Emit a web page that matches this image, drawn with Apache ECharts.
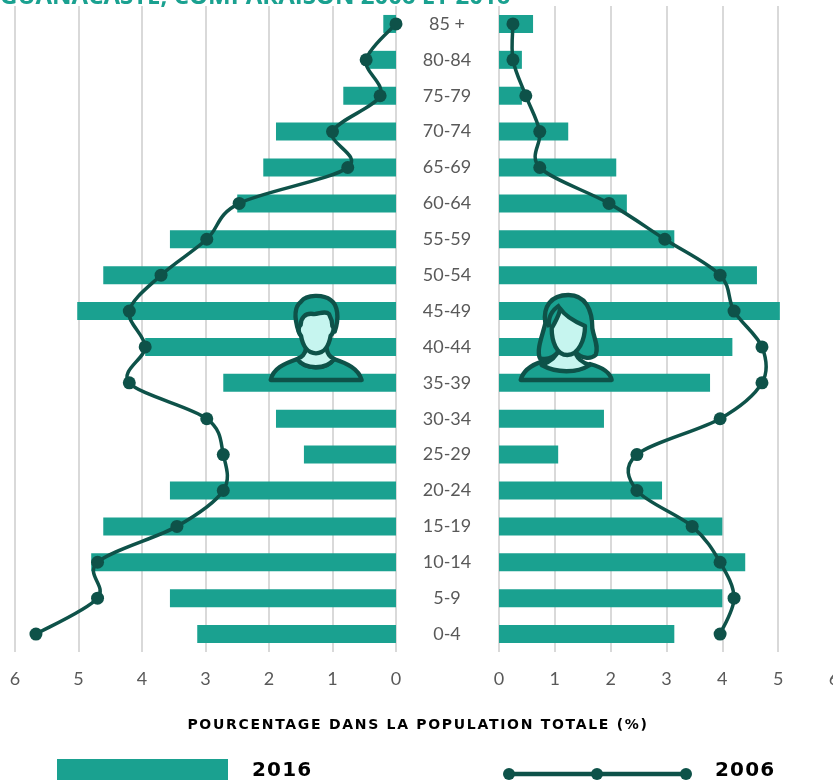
<!DOCTYPE html>
<html><head><meta charset="utf-8">
<style>html,body{margin:0;padding:0;background:#fff;overflow:hidden}#c{width:833px;height:780px}</style>
<script src="https://cdn.jsdelivr.net/npm/echarts@6/dist/echarts.min.js"></script>
</head><body><div id="c"></div>
<script>
const ages = ['85 +','80-84','75-79','70-74','65-69','60-64','55-59','50-54','45-49','40-44','35-39','30-34','25-29','20-24','15-19','10-14','5-9','0-4'];
const hommes2016 = [0.2,0.43,0.83,1.89,2.09,2.5,3.56,4.61,5.02,3.95,2.72,1.89,1.45,3.56,4.61,4.8,3.56,3.13];
const hommes2006 = [0.0,0.47,0.25,1.0,0.76,2.47,2.98,3.7,4.2,3.95,4.2,2.98,2.72,2.72,3.45,4.7,4.7,5.67];
const femmes2016 = [0.61,0.41,0.41,1.24,2.1,2.29,3.14,4.62,5.03,4.18,3.78,1.88,1.06,2.92,4.0,4.41,4.0,3.14];
const femmes2006 = [0.25,0.25,0.48,0.73,0.73,1.97,2.97,3.96,4.21,4.71,4.71,3.96,2.47,2.47,3.46,3.96,4.21,3.96];
const titre = 'GUANACASTE, COMPARAISON 2006 ET 2016';
const axeTitre = 'POURCENTAGE DANS LA POPULATION TOTALE (%)';
const annee2016 = '2016', annee2006 = '2006';

// letter-spacing for the spaced-out captions
const spacing = {[axeTitre]:'1.7px',[annee2016]:'1.2px',[annee2006]:'1.2px'};
const origFill = CanvasRenderingContext2D.prototype.fillText;
CanvasRenderingContext2D.prototype.fillText = function(t,x,y,m){
  const s = spacing[t];
  if(s) this.letterSpacing = s;
  const r = m===undefined ? origFill.call(this,t,x,y) : origFill.call(this,t,x,y,m);
  if(s) this.letterSpacing = '0px';
  return r;
};

const TEAL='#1aa190', DARK='#0e5249', LIGHT='#c6f5ef', GRID='#d9d9d9', TXT='#595959';
const chart = echarts.init(document.getElementById('c'), null, {renderer:'canvas'});
function xAxisOf(i, inv){return {gridIndex:i,type:'value',min:0,max:6,interval:1,inverse:inv,position:'bottom',
  axisLine:{show:false},axisTick:{show:false},
  axisLabel:{color:TXT,fontFamily:'Lato',fontSize:18,margin:18,showMaxLabel:true,showMinLabel:true,hideOverlap:false},
  splitLine:{show:true,lineStyle:{color:GRID,width:2}}};}
function barS(n,xi,d){return {name:n,type:'bar',xAxisIndex:xi,yAxisIndex:xi,data:d,barWidth:18,z:2,itemStyle:{color:TEAL},silent:true};}
function markS(n,xi,d){return {name:n,type:'line',xAxisIndex:xi,yAxisIndex:xi,data:d,z:20,symbol:'circle',symbolSize:13,
  lineStyle:{width:0,opacity:0},itemStyle:{color:DARK},silent:true};}
// Smoothed curve through the values, positioned by the axes (overshoots like the original's spline)
function curveS(xi,d){return {type:'custom',xAxisIndex:xi,yAxisIndex:xi,z:19,silent:true,clip:false,
  data:d.map((v,i)=>[v,i]),encode:{x:0,y:1},
  renderItem:function(params,api){
    const i=params.dataIndex; if(i>=d.length-1) return null;
    const P=k=>api.coord([d[Math.max(0,Math.min(d.length-1,k))],Math.max(0,Math.min(d.length-1,k))]);
    const a=P(i-1),b=P(i),c=P(i+1),e=P(i+2);
    return {type:'bezierCurve',shape:{x1:b[0],y1:b[1],x2:c[0],y2:c[1],
      cpx1:b[0]+(c[0]-a[0])/6,cpy1:b[1]+(c[1]-a[1])/6,cpx2:c[0]-(e[0]-b[0])/6,cpy2:c[1]-(e[1]-b[1])/6},
      style:{stroke:DARK,lineWidth:3.5,fill:null,lineCap:'round'}};
  }};}
let shapeId=0;
function p(d,fill){const name='icon'+(shapeId++);echarts.graphic.registerShape(name,echarts.graphic.extendPath(d,{}));
  return {type:name,style:{fill:fill,stroke:DARK,lineWidth:13,lineJoin:'round'},silent:true,z:10};}
const man={type:'group',x:260,y:290,scaleX:1/3,scaleY:1/3,z:10,children:[
  p('M32 270 C40 235 70 222 112 207 C135 240 200 240 222 207 C260 220 295 235 305 270 Z',TEAL),
  p('M112 207 C125 200 135 195 138 175 L200 175 C202 195 212 200 222 207 C200 240 135 240 112 207 Z',LIGHT),
  p('M116 125 C103 85 103 50 123 35 C140 13 190 13 212 30 C234 45 238 85 224 125 Z',TEAL),
  p('M122 105 C122 85 135 68 160 72 C175 74 195 60 207 72 C214 85 217 100 217 108 C225 115 218 132 212 137 C207 167 192 190 168 190 C143 190 128 167 123 137 C113 127 115 110 122 105 Z',LIGHT)
]};
const woman={type:'group',x:510,y:290,scaleX:1/3,scaleY:1/3,z:10,children:[
  p('M32 270 C40 240 65 225 95 215 C140 250 200 250 240 222 C270 230 300 245 305 270 Z',TEAL),
  p('M95 225 C120 215 140 200 145 180 L195 180 C197 205 220 220 240 225 C200 250 140 250 95 225 Z',LIGHT),
  p('M106 100 C98 50 123 15 175 15 C227 15 247 60 247 115 C252 145 267 170 257 195 C240 210 215 205 195 185 L145 185 C130 205 110 210 90 205 C78 180 98 135 106 100 Z',TEAL),
  p('M125 115 C135 95 150 75 150 55 C165 78 195 95 225 108 C225 150 205 195 172 195 C140 195 125 155 125 115 Z',LIGHT),
  p('M150 45 C125 60 112 85 118 112','none')
]};
const legendG=[
  {type:'rect',shape:{x:57,y:759,width:171,height:22},style:{fill:TEAL},silent:true},
  {type:'text',x:252,y:771,style:{text:annee2016,fill:'#000',font:'bold 20px "DejaVu Sans"',verticalAlign:'middle'},silent:true},
  {type:'line',shape:{x1:509,y1:774,x2:686,y2:774},style:{stroke:DARK,lineWidth:4.5},silent:true},
  {type:'circle',shape:{cx:509,cy:774,r:6},style:{fill:DARK},silent:true},
  {type:'circle',shape:{cx:597,cy:774,r:6},style:{fill:DARK},silent:true},
  {type:'circle',shape:{cx:686,cy:774,r:6},style:{fill:DARK},silent:true},
  {type:'text',x:715,y:771,style:{text:annee2006,fill:'#000',font:'bold 20px "DejaVu Sans"',verticalAlign:'middle'},silent:true},
  {type:'text',x:418,y:725,style:{text:axeTitre,fill:'#000',font:'bold 14px "DejaVu Sans"',align:'center',verticalAlign:'middle'},silent:true},
  {type:'text',x:0,y:9,style:{text:titre,fill:TEAL,font:'bold 24px "Open Sans"',verticalAlign:'bottom'},silent:true}
];
chart.setOption({animation:false,backgroundColor:'#fff',
  grid:[{left:15,width:381,top:6,height:646,outerBoundsMode:'none'},{left:499,width:335,top:6,height:646,outerBoundsMode:'none'}],
  xAxis:[xAxisOf(0,true),xAxisOf(1,false)],
  yAxis:[{gridIndex:0,type:'category',data:ages,inverse:true,position:'right',axisLine:{show:false},axisTick:{show:false},
      axisLabel:{color:TXT,fontFamily:'Lato',fontSize:18,align:'center',margin:51,interval:0,padding:[0,0,3,0]}},
    {gridIndex:1,type:'category',data:ages,inverse:true,axisLine:{show:false},axisTick:{show:false},axisLabel:{show:false}}],
  series:[barS('2016',0,hommes2016),barS('2016',1,femmes2016),
    curveS(0,hommes2006),curveS(1,femmes2006),
    markS('2006',0,hommes2006),markS('2006',1,femmes2006)],
  graphic:{elements:[man,woman].concat(legendG)}
});
</script></body></html>
